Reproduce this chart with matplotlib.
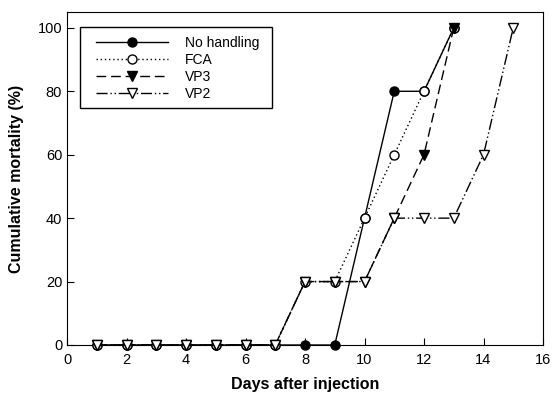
import matplotlib
matplotlib.use("Agg")
import matplotlib.pyplot as plt
from matplotlib.patches import Rectangle

plt.rcParams['font.family'] = ['Liberation Sans', 'DejaVu Sans']

days_nh = [1, 2, 3, 4, 5, 6, 7, 8, 9, 10, 11, 12, 13]
no_handling = [0, 0, 0, 0, 0, 0, 0, 0, 0, 40, 80, 80, 100]

days_fca = [1, 2, 3, 4, 5, 6, 7, 8, 9, 10, 11, 12, 13]
fca = [0, 0, 0, 0, 0, 0, 0, 20, 20, 40, 60, 80, 100]

days_vp3 = [1, 2, 3, 4, 5, 6, 7, 8, 9, 10, 11, 12, 13]
vp3 = [0, 0, 0, 0, 0, 0, 0, 20, 20, 20, 40, 60, 100]

days_vp2 = [1, 2, 3, 4, 5, 6, 7, 8, 9, 10, 11, 12, 13, 14, 15]
vp2 = [0, 0, 0, 0, 0, 0, 0, 20, 20, 20, 40, 40, 40, 60, 100]

fig = plt.figure(figsize=(5.54, 3.93), dpi=100)
ax = fig.add_axes([67 / 554, 48 / 393, 476 / 554, 333 / 393])

ms = 6.5
ax.plot(days_nh, no_handling, color='black', lw=1, ls='-', marker='o',
        ms=ms, mfc='black', mec='black', label='No handling', clip_on=False, zorder=3)
ax.plot(days_fca, fca, color='black', lw=1, ls=(0, (1, 2)), marker='o',
        ms=ms, mfc='white', mec='black', label='FCA', clip_on=False, zorder=4)
ax.plot(days_vp3, vp3, color='black', lw=1, ls=(0, (7, 3.5)), marker='v',
        ms=ms, mfc='black', mec='black', label='VP3', clip_on=False, zorder=5)
ax.plot(days_vp2, vp2, color='black', lw=1, ls=(0, (8, 2, 1, 2, 1, 2)), marker='v',
        ms=ms, mfc='white', mec='black', label='VP2', clip_on=False, zorder=6)

ax.set_xlim(0, 16)
ax.set_ylim(0, 105)
ax.set_xticks(range(0, 17, 2))
ax.set_yticks(range(0, 101, 20))
ax.tick_params(direction='in', length=5, labelsize=10.5)
ax.tick_params(axis='x', pad=6)

ax.set_xlabel('Days after injection', fontsize=11.5, fontweight='bold', labelpad=7)
ax.set_ylabel('Cumulative mortality (%)', fontsize=11.5, fontweight='bold', labelpad=10)

# legend without its own frame, boxed by a plain rectangle
ax.add_patch(Rectangle((0.0273, 0.712), 0.403, 0.243, transform=ax.transAxes,
                       fill=True, facecolor='white', edgecolor='black', lw=1, zorder=7))
leg = ax.legend(loc='upper left', bbox_to_anchor=(0.061, 0.928), borderaxespad=0,
                borderpad=0, frameon=False, handlelength=5.2, handletextpad=1.2,
                fontsize=10, labelspacing=0.22)
leg.set_zorder(8)

fig.savefig('out.png', dpi=100)
